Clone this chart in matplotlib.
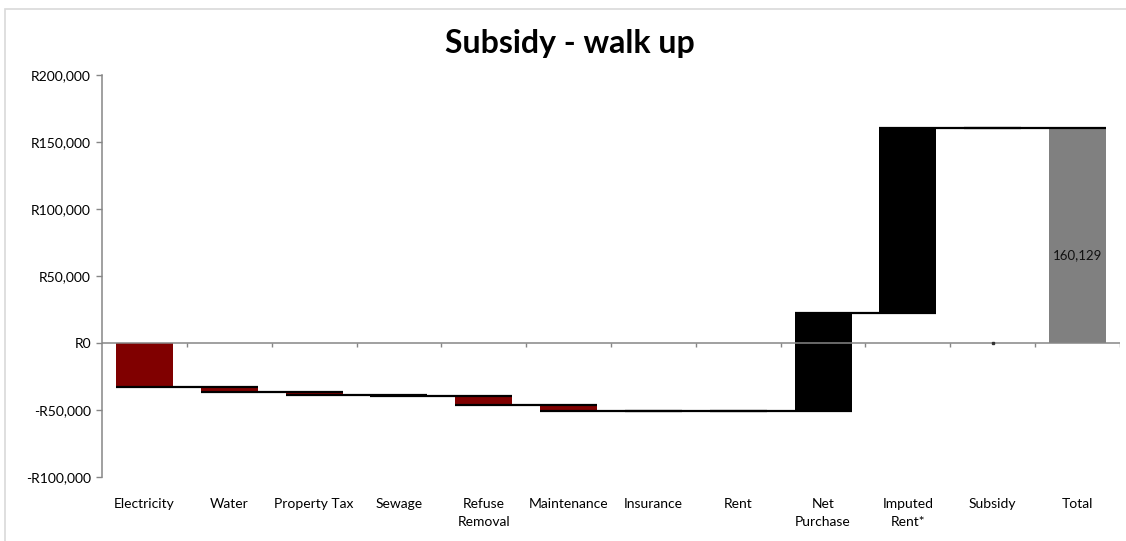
import matplotlib
matplotlib.use("Agg")
import matplotlib.pyplot as plt
from matplotlib.patches import Rectangle
from matplotlib.ticker import FuncFormatter
import numpy as np

# walk-up subsidy components (Rand), in order of the walk
categories = ["Electricity", "Water", "Property Tax", "Sewage", "Refuse\nRemoval",
              "Maintenance", "Insurance", "Rent", "Net\nPurchase", "Imputed\nRent*",
              "Subsidy", "Total"]
steps = [-33100, -3500, -1900, -700, -7200, -4600, 0, 0, 73500, 137629, 0]
total = 160129
bar_colours = ["#800000"] * 8 + ["#000000", "#000000", "#000000", "#808080"]

plt.rcParams["font.family"] = ["Lato", "DejaVu Sans"]

W, H = 1126, 541
fig = plt.figure(figsize=(W / 100, H / 100), dpi=100)
fig.patches.append(Rectangle((5 / W, -0.2), 1.2, 1.2 - 9 / H, transform=fig.transFigure,
                             fill=False, edgecolor="#d9d9d9", linewidth=1.2))
ax = fig.add_axes([102 / W, 1 - 477 / H, (1120 - 102) / W, (477 - 75) / H])

x = np.arange(len(categories))
ends = np.cumsum(steps)
starts = ends - np.array(steps)
width = 0.67

# floating bars for each step, then the total from zero
ax.bar(x[:-1], np.array(steps), bottom=starts, width=width,
       color=bar_colours[:-1], linewidth=0, zorder=2)
ax.bar(x[-1], total, width=width, color=bar_colours[-1], linewidth=0, zorder=2)

# connectors: running level carried over to the next bar
for i, lvl in enumerate(ends):
    ax.plot([i - width / 2, i + 1 + width / 2], [lvl, lvl], color="black",
            lw=1.6, solid_capstyle="butt", zorder=4)

ax.text(x[-1], total * 0.41, f"{total:,}", ha="center", va="center", fontsize=9.5,
        color="#111111", zorder=5)
ax.plot(x[10], 0, marker="s", ms=1.5, color="#333333", zorder=5)

ax.axhline(0, color="#868686", lw=1.1, zorder=3)
ax.vlines(np.arange(len(categories)) + 0.5, -3000, 0, color="#868686", lw=1, zorder=3)

ax.set_xlim(-0.5, len(categories) - 0.5)
ax.set_ylim(-100000, 200000)
ax.set_yticks(np.arange(-100000, 200001, 50000))
ax.yaxis.set_major_formatter(FuncFormatter(
    lambda v, _: f"-R{abs(v):,.0f}" if v < 0 else f"R{v:,.0f}"))
ax.set_xticks(x, categories)
ax.tick_params(axis="x", length=0, pad=15, labelsize=10)
ax.tick_params(axis="y", length=4, width=1, color="#868686", labelsize=10, pad=4)
for lab in ax.get_xticklabels():
    lab.set_linespacing(1.6)

for side in ["top", "right", "bottom"]:
    ax.spines[side].set_visible(False)
ax.spines["left"].set_color("#868686")
ax.spines["left"].set_linewidth(1.1)

fig.text(570 / W, 1 - 44 / H, "Subsidy - walk up", ha="center", va="center",
         fontsize=23, fontweight="bold")

fig.savefig("out.png", dpi=100)
